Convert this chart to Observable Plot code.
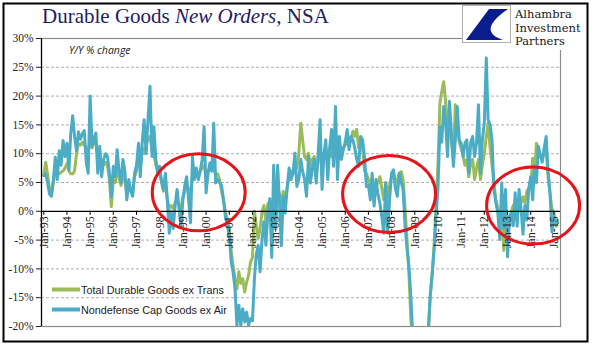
<!DOCTYPE html>
<html><head><meta charset="utf-8">
<script src="https://cdn.jsdelivr.net/npm/d3@7"></script>
<script src="https://cdn.jsdelivr.net/npm/@observablehq/plot@0.6"></script>
<style>
body{margin:0;background:#fff}
#wrap{position:relative;width:596px;height:358px;overflow:hidden;background:#fff}
#chart, #over{position:absolute;left:0;top:0}
#logotext{position:absolute;left:515px;top:8.3px;font-family:'DejaVu Serif',serif;font-size:11.5px;color:#1a1a1a}
#logotext div{height:13.4px;line-height:13.4px;white-space:nowrap}
</style></head><body>
<div id="wrap"><div id="chart"></div><svg id="over" width="596" height="358"></svg><div id="logotext"></div></div>
<script>
// ---- data (monthly, Y/Y % change, starting Jan 1993) ----
const startYear = 1993;
const capGoods = [ // Nondefense Cap Goods ex Air
 6.2, 6.5, 5.0, 3.0, 2.6, 5.5, 9.4, 5.5, 10.5, 8.0, 12.3, 9.5,
 11.8, 7.2, 13.4, 16.6, 13.0, 10.5, 13.8, 12.5, 13.5, 14.0, 8.5, 6.6,
 20.0, 11.3, 12.5, 13.6, 6.6, 11.3, 6.0, 9.0, 10.0, 9.5, 6.6, 2.5,
 7.8, 6.0, 10.7, 7.0, 4.9, 9.0, 7.0, 2.0, 5.5, 3.5, 2.6, 6.6,
 8.0, 11.8, 6.0, 12.0, 15.9, 10.0, 16.0, 21.7, 9.5, 14.7, 9.0, 6.6,
 7.8, 5.0, 3.8, 6.6, 2.0, -3.8, 0.0, -3.0, 1.0, 3.8, 0.5, -2.6,
 2.0, 4.5, 6.0, 2.0, -2.0, 9.5, 5.5, 7.5, 5.5, 7.0, 9.0, 14.7,
 3.2, 6.5, 8.4, 7.0, 15.3, 4.9, 5.5, 5.0, 4.5, 2.0, -1.0, -2.5,
 -4.2, -8.8, -10.5, -13.4, -19.8, -16.3, -19.8, -16.9, -19.2, -17.5, -19.8, -18.6,
 -19.0, -11.7, -7.6, -5.9, -10.5, -4.7, -1.8, -5.9, -0.1, 2.2, -8.0, 8.0,
 -3.0, 8.0, 2.0, -6.0, 2.6, -0.3, 4.0, 7.5, 5.5, 6.6, 10.1, 4.3,
 5.5, 9.0, 7.0, 5.5, 2.6, 9.5, 4.9, 7.5, 9.0, 4.9, 10.1, 15.9,
 3.8, 10.1, 12.4, 5.5, 11.0, 14.2, 7.8, 18.2, 5.5, 13.0, 9.0, 10.7,
 12.0, 14.2, 10.7, 13.0, 12.4, 11.0, 9.0, 7.8, 13.0, 12.4, 9.5, 4.3,
 4.5, 2.0, 6.6, 0.9, 5.5, 3.0, 1.4, -1.0, -3.8, 4.9, -3.8, 2.0,
 6.6, 7.2, 4.0, 2.6, 6.6, 5.0, 3.8, -2.6, -6.6, -9.5, -15.0, -22.0,
 -24.0, -26.0, -28.0, -27.0, -28.0, -27.0, -25.0, -21.0, -14.5, -11.0, -6.6, -0.9,
 4.0, 14.7, 12.0, 18.2, 15.3, 9.5, 19.1, 13.6, 7.8, 12.4, 18.2, 12.4,
 11.8, 9.5, 11.8, 12.4, 6.6, 12.0, 13.0, 9.5, 12.0, 18.5, 6.6, 12.4,
 15.3, 26.6, 15.9, 15.0, 12.4, 3.8, 1.5, -0.3, -4.9, 4.9, -2.9, 3.8,
 -7.9, -0.9, -0.3, -2.5, 3.2, -2.6, 3.8, 0.5, -4.0, 1.0, -1.5, 4.0,
 6.0, 2.0, 7.8, 5.0, 11.3, 9.8, 8.5, 11.0, 13.0, 7.0, 3.2, -3.6,
 -0.9, -1.7, -2.0
];
const durables = [ // Total Durable Goods ex Trans
 6.3, 8.5, 6.5, 4.0, 3.0, 5.0, 7.0, 6.5, 6.5, 6.8, 7.0, 7.5,
 8.3, 7.0, 6.5, 6.5, 7.0, 10.0, 11.8, 11.5, 12.0, 11.5, 11.0, 10.5,
 12.0, 11.0, 12.0, 12.0, 9.0, 9.5, 8.0, 8.0, 8.5, 8.0, 5.5, 0.8,
 5.5, 5.0, 7.0, 6.0, 4.5, 6.5, 5.5, 3.0, 4.5, 4.0, 3.5, 6.0,
 7.0, 10.5, 7.5, 11.0, 10.0, 11.5, 12.5, 13.0, 10.5, 10.0, 8.0, 7.0,
 6.5, 5.0, 3.5, 4.5, 2.0, 0.5, 1.0, 0.5, 1.5, 2.0, 1.0, 0.5,
 2.5, 3.5, 4.5, 4.0, 3.0, 6.0, 6.5, 6.0, 6.5, 7.0, 7.5, 8.0,
 6.0, 7.0, 7.5, 7.0, 8.0, 6.0, 6.5, 5.5, 3.5, 2.0, 0.0, -1.5,
 -3.0, -7.0, -9.4, -11.7, -13.5, -10.5, -12.5, -11.7, -14.0, -12.3, -11.1, -8.8,
 -8.0, 0.0, -2.4, -4.7, -3.0, 0.0, 1.0, -1.8, 1.3, 0.5, -1.5, 2.0,
 -2.0, 4.0, 3.0, 1.0, 3.5, 1.5, 4.0, 6.0, 7.0, 6.5, 8.0, 7.5,
 10.0, 15.3, 12.4, 9.5, 9.0, 10.1, 8.0, 9.0, 9.5, 6.5, 8.5, 10.5,
 8.5, 9.0, 11.0, 9.0, 10.5, 9.5, 10.5, 11.0, 9.5, 11.5, 11.0, 11.0,
 11.5, 12.0, 11.5, 12.5, 13.9, 13.0, 14.2, 11.0, 12.0, 11.0, 7.0, 6.6,
 5.5, 4.0, 5.0, 1.5, 4.5, 4.9, 6.0, 4.0, 2.0, 5.0, 2.5, 4.5,
 6.0, 6.5, 5.0, 5.5, 6.5, 6.9, 5.5, 0.5, -5.0, -11.0, -19.0, -23.0,
 -25.0, -27.0, -28.0, -28.0, -27.0, -26.0, -24.0, -21.0, -15.0, -11.0, -6.0, 1.0,
 8.0, 18.8, 20.8, 22.5, 19.0, 15.0, 16.0, 12.0, 9.0, 18.5, 15.0, 12.0,
 11.0, 9.5, 8.0, 9.0, 6.0, 8.5, 9.0, 5.5, 7.5, 9.0, 5.5, 8.0,
 10.0, 13.0, 15.3, 11.0, 8.0, 4.9, 2.0, 0.5, -2.0, 1.0, -6.8, -3.0,
 -4.0, -1.5, 0.0, 1.0, 1.5, 0.5, 2.0, 1.5, 2.5, 1.5, 3.5, 4.0,
 4.0, 9.2, 6.5, 11.8, 10.0, 9.5, 9.2, 10.0, 10.5, 6.0, 3.0, 0.5,
 -0.3, -2.6, -1.6
];
const seriesNames = ["Total Durable Goods ex Trans", "Nondefense Cap Goods ex Air"];
const seriesColors = ["#9bbb59", "#4bacc6"];
const tickLabels = ["Jan-93","Jan-94","Jan-95","Jan-96","Jan-97","Jan-98","Jan-99","Jan-00","Jan-01","Jan-02","Jan-03","Jan-04","Jan-05","Jan-06","Jan-07","Jan-08","Jan-09","Jan-10","Jan-11","Jan-12","Jan-13","Jan-14","Jan-15"];
const yTicks = [-20, -15, -10, -5, 0, 5, 10, 15, 20, 25, 30];
// highlighted periods (ellipse centres, in data units)
const highlights = [
  {date: new Date(Date.UTC(1999, 8, 15)), value: 3.2},
  {date: new Date(Date.UTC(2007, 11, 1)), value: 2.9},
  {date: new Date(Date.UTC(2014, 1, 15)), value: 0.9}
];

// ---- build ----
const rows = capGoods.map((v, i) => ({date: new Date(Date.UTC(startYear, i, 1)), cap: v, dur: durables[i]}));
const tickDates = tickLabels.map((_, i) => new Date(Date.UTC(startYear + i, 0, 1)));
const xDomain = [new Date(Date.UTC(1992, 10, 26)), new Date(Date.UTC(2015, 3, 15))];

function ellipses(index, scales) {
  const g = d3.create("svg:g");
  for (const h of highlights) {
    g.append("ellipse")
      .attr("cx", scales.x(h.date)).attr("cy", scales.y(h.value))
      .attr("rx", 46.5).attr("ry", 38.5)
      .attr("fill", "none").attr("stroke", "#e5141b").attr("stroke-width", 3);
  }
  return g.node();
}

const chart = Plot.plot({
  width: 596, height: 358,
  marginLeft: 41, marginRight: 36, marginTop: 38, marginBottom: 32,
  style: {fontFamily: "'Liberation Serif', serif", fontSize: "11.5px", color: "#222", background: "transparent"},
  x: {type: "utc", domain: xDomain, axis: null},
  y: {domain: [-20, 30], ticks: yTicks, tickFormat: d => d + "%", tickSize: 5, tickPadding: 3, label: null},
  marks: [
    Plot.ruleY(yTicks.filter(d => d !== 0 && d !== 30 && d !== -20), {stroke: "#a6a6a6", strokeDasharray: "3,2", strokeWidth: 0.9}),
    Plot.frame({stroke: "#8c8c8c", strokeWidth: 1.2}),
    Plot.lineY(rows, {x: "date", y: "dur", stroke: seriesColors[0], strokeWidth: 3, clip: true}),
    Plot.lineY(rows, {x: "date", y: "cap", stroke: seriesColors[1], strokeWidth: 3, clip: true}),
    Plot.ruleY([0], {stroke: "#000", strokeWidth: 1.2}),
    Plot.ruleX([xDomain[0]], {stroke: "#000", strokeWidth: 1.2}),
    Plot.ruleX(tickDates, {y1: 0, y2: -0.7, stroke: "#000", strokeWidth: 1}),
    Plot.text(tickDates, {x: d => d, y: d => 0, text: (d, i) => tickLabels[i], rotate: -90, textAnchor: "end", dy: 5, fontSize: 12, fill: "#222"}),
    ellipses
  ]
});
document.getElementById("chart").appendChild(chart);

// ---- overlay: border, title, logo, note, legend ----
const over = d3.select("#over");
over.append("rect").attr("x", 462).attr("y", 4).attr("width", 124).attr("height", 46).attr("fill", "#fff");
over.append("rect").attr("x", 3.5).attr("y", 3.5).attr("width", 584).attr("height", 338).attr("fill", "none").attr("stroke", "#000").attr("stroke-width", 2);
const title = over.append("text").attr("x", 42).attr("y", 23).attr("font-family", "'Liberation Serif', serif").attr("font-size", 21).attr("fill", "#1f2063");
title.append("tspan").text("Durable Goods ");
title.append("tspan").attr("font-style", "italic").text("New Orders");
title.append("tspan").text(", NSA");
// logo
over.append("rect").attr("x", 462.5).attr("y", 5.5).attr("width", 48).attr("height", 37).attr("fill", "#fff").attr("stroke", "#b0b0b0");
over.append("path").attr("d", "M508 9 L489 9 L466 40 L503 40 Q476 31 508 9 Z").attr("fill", "#0b1c8c");
const logoText = ["Alhambra", "Investment", "Partners"];
d3.select("#logotext").selectAll("div").data(logoText).join("div").text(d => d);
over.append("text").attr("x", 69).attr("y", 54).attr("font-family", "'Open Sans', 'Liberation Sans', sans-serif").attr("font-style", "italic").attr("font-size", 10.5).attr("fill", "#222").text("Y/Y % change");
// legend
seriesNames.forEach((name, i) => {
  const y = 289.5 + i * 20;
  over.append("line").attr("x1", 52).attr("x2", 80).attr("y1", y).attr("y2", y).attr("stroke", seriesColors[i]).attr("stroke-width", 4);
  over.append("text").attr("x", 81).attr("y", y + 4.5).attr("font-family", "'Liberation Sans', Arial, sans-serif").attr("font-size", 10.8).attr("fill", "#222").text(name);
});
</script>
</body></html>
